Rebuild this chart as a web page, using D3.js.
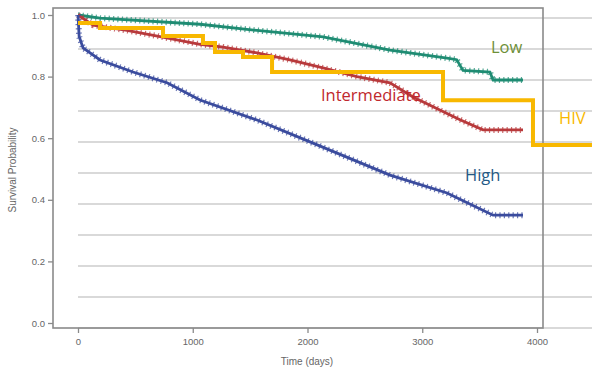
<!DOCTYPE html>
<html>
<head>
<meta charset="utf-8">
<script src="https://d3js.org/d3.v7.min.js"></script>
<style>
  body { margin: 0; background: #fff; }
</style>
</head>
<body>
<div id="chart"></div>
<script>
var width = 592, height = 374;

// survival curves (time in days, survival probability)
var lowT  = [0, 192, 1063, 1560, 2135, 2719, 3216, 3300, 3355, 3590, 3617, 3878];
var lowS  = [1.0, 0.99, 0.97, 0.95, 0.929, 0.886, 0.86, 0.855, 0.82, 0.815, 0.789, 0.789];

var midT  = [0, 131, 427, 715, 1063, 1264, 1560, 1847, 2135, 2431, 2719, 2919, 3216, 3329, 3529, 3878];
var midS  = [1.0, 0.967, 0.95, 0.93, 0.905, 0.896, 0.877, 0.854, 0.828, 0.80, 0.78, 0.734, 0.68, 0.66, 0.627, 0.627];

var highT = [0, 10, 44, 192, 479, 776, 1063, 1560, 2048, 2719, 3216, 3617, 3878];
var highS = [1.0, 0.93, 0.893, 0.854, 0.815, 0.78, 0.724, 0.659, 0.584, 0.48, 0.422, 0.35, 0.35];

// HIV overlay step line (its own 0-1 scale)
var hivT  = [0, 192, 741, 1089, 1194, 1438, 1691, 3181, 3965, 4479];
var hivS  = [0.984, 0.968, 0.942, 0.919, 0.89, 0.874, 0.826, 0.735, 0.59, 0.59];

var xTicks = [0, 1000, 2000, 3000, 4000];
var yTicks = [0, 0.2, 0.4, 0.6, 0.8, 1.0];
var gridTicks = [0, 0.1, 0.2, 0.3, 0.4, 0.5, 0.6, 0.7, 0.8, 0.9, 1.0];

var svg = d3.select('#chart').append('svg')
    .attr('width', width)
    .attr('height', height);

var x = d3.scaleLinear().domain([0, 4000]).range([78, 537]);
var y = d3.scaleLinear().domain([0, 1]).range([323, 15]);
var yHiv = d3.scaleLinear().domain([0, 1]).range([328, 18]);

var frame = {left: 53, top: 8, right: 543, bottom: 328};

// overlay gridlines
svg.append('g').selectAll('line')
    .data(gridTicks)
    .enter().append('line')
    .attr('x1', 78).attr('x2', width)
    .attr('y1', d => yHiv(d)).attr('y2', d => yHiv(d))
    .attr('stroke', '#b4b4b4')
    .attr('stroke-width', 1.2);

// frame
svg.append('rect')
    .attr('x', frame.left).attr('y', frame.top)
    .attr('width', frame.right - frame.left)
    .attr('height', frame.bottom - frame.top)
    .attr('fill', 'none')
    .attr('stroke', '#8a8a8a')
    .attr('stroke-width', 1.6);

// axes
var yAxis = svg.append('g')
    .attr('transform', 'translate(' + frame.left + ',0)')
    .call(d3.axisLeft(y).tickValues(yTicks).tickFormat(d3.format('.1f')).tickSize(5).tickPadding(3));
var xAxis = svg.append('g')
    .attr('transform', 'translate(0,' + frame.bottom + ')')
    .call(d3.axisBottom(x).tickValues(xTicks).tickFormat(d3.format('d')).tickSize(5).tickPadding(5));

[xAxis, yAxis].forEach(function(a) {
    a.select('.domain').remove();
    a.selectAll('.tick line').attr('stroke', '#8a8a8a').attr('stroke-width', 1.3);
    a.selectAll('.tick text')
        .attr('fill', '#666')
        .attr('font-family', 'Liberation Sans, Arial, sans-serif')
        .attr('font-size', 9.5);
});

svg.append('text')
    .attr('x', 307).attr('y', 365)
    .attr('text-anchor', 'middle')
    .attr('fill', '#666')
    .attr('font-family', 'Liberation Sans, Arial, sans-serif')
    .attr('font-size', 10)
    .text('Time (days)');

svg.append('text')
    .attr('transform', 'translate(16,170) rotate(-90)')
    .attr('text-anchor', 'middle')
    .attr('fill', '#666')
    .attr('font-family', 'Liberation Sans, Arial, sans-serif')
    .attr('font-size', 10)
    .text('Survival Probability');

// survival curves with censor-mark texture
var line = d3.line().x(d => x(d[0])).y(d => y(d[1]));
var curves = [
    {t: lowT, s: lowS, color: '#1f8c73'},
    {t: midT, s: midS, color: '#b83a3c'},
    {t: highT, s: highS, color: '#3b4c9e'}
];

curves.forEach(function(c) {
    var pts = c.t.map((t, i) => [t, c.s[i]]);
    svg.append('path')
        .attr('d', line(pts))
        .attr('fill', 'none')
        .attr('stroke', c.color)
        .attr('stroke-width', 2.8);
    svg.append('path')
        .attr('d', line(pts))
        .attr('fill', 'none')
        .attr('stroke', c.color)
        .attr('stroke-width', 6)
        .attr('stroke-opacity', 0.75)
        .attr('stroke-dasharray', '1.2 3.2');
});

// HIV step line
var hivLine = d3.line()
    .x(d => x(d[0]))
    .y(d => yHiv(d[1]))
    .curve(d3.curveStepAfter);

svg.append('path')
    .attr('d', hivLine(hivT.map((t, i) => [t, hivS[i]])))
    .attr('fill', 'none')
    .attr('stroke', '#f8b800')
    .attr('stroke-width', 4);

// group labels
var labels = [
    {text: 'Low', x: 491, y: 53, color: '#6e9038'},
    {text: 'Intermediate', x: 321, y: 101, color: '#c0282d'},
    {text: 'HIV', x: 559, y: 124, color: '#f8b800'},
    {text: 'High', x: 465, y: 181, color: '#245a86'}
];

svg.append('g').selectAll('text')
    .data(labels)
    .enter().append('text')
    .attr('x', d => d.x).attr('y', d => d.y)
    .attr('fill', d => d.color)
    .attr('font-family', 'Open Sans, Lato, sans-serif')
    .attr('font-size', 16.5)
    .text(d => d.text);
</script>
</body>
</html>
